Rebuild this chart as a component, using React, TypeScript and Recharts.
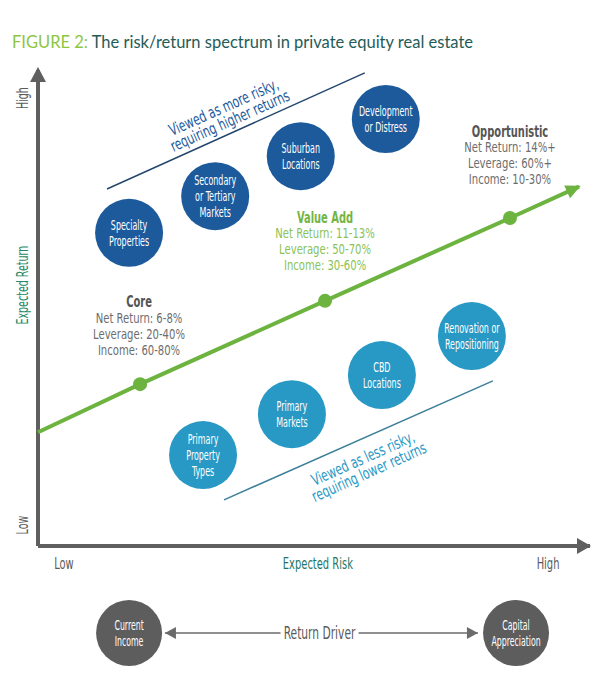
import React from 'react';
import { ScatterChart, Scatter, XAxis, YAxis, ReferenceLine } from 'recharts';

// axis labels (positions on a 0-100 risk / return scale)
const riskTicks = [4.7, 50.7, 92.4];
const riskTickLabels = ['Low', 'Expected Risk', 'High'];
const returnTicks = [4.4, 54.8, 94.1];
const returnTickLabels = ['Low', 'Expected Return', 'High'];

const higherRiskPlays = [
  { risk: 16.5, ret: 65.8, label: ['Specialty', 'Properties'] },
  { risk: 32.1, ret: 73.5, label: ['Secondary', 'or Tertiary', 'Markets'] },
  { risk: 47.6, ret: 81.9, label: ['Suburban', 'Locations'] },
  { risk: 63.0, ret: 89.7, label: ['Development', 'or Distress'] },
];

const lowerRiskPlays = [
  { risk: 29.9, ret: 19.1, label: ['Primary', 'Property', 'Types'] },
  { risk: 46.0, ret: 27.7, label: ['Primary', 'Markets'] },
  { risk: 62.3, ret: 35.9, label: ['CBD', 'Locations'] },
  { risk: 78.6, ret: 44.1, label: ['Renovation or', 'Repositioning'] },
];

const trendPath = [
  { risk: 0, ret: 23.9, kind: 'start' },
  { risk: 18.5, ret: 34.0, kind: 'stage' },
  { risk: 52.0, ret: 51.5, kind: 'stage' },
  { risk: 85.5, ret: 68.9, kind: 'stage' },
  { risk: 98.0, ret: 75.5, kind: 'tip' },
];

const strategies = [
  { name: 'Core', risk: 18.3, ret: 51.3, netReturn: '6-8%', leverage: '20-40%', income: '60-80%' },
  { name: 'Value Add', risk: 52.0, ret: 69.1, netReturn: '11-13%', leverage: '50-70%', income: '30-60%' },
  { name: 'Opportunistic', risk: 85.5, ret: 87.2, netReturn: '14%+', leverage: '60%+', income: '10-30%' },
];

const upperBoundary = [{ risk: 12.5, ret: 75.0 }, { risk: 59.2, ret: 99.4 }];
const lowerBoundary = [{ risk: 33.7, ret: 9.7 }, { risk: 82.4, ret: 34.7 }];

const boundaryNotes = [
  { risk: 34.2, ret: 90.8, tone: 'upper', lines: ['Viewed as more risky,', 'requiring higher returns'] },
  { risk: 59.4, ret: 17.0, tone: 'lower', lines: ['Viewed as less risky,', 'requiring lower returns'] },
];

const axisTips = [{ risk: 0, ret: 100 }, { risk: 100, ret: 0 }];

const drivers = [
  { pos: 16.5, level: 0.5, label: ['Current', 'Income'] },
  { pos: 86.6, level: 0.5, label: ['Capital', 'Appreciation'] },
];
const driverArrow = [23.0, 79.7];
const driverTitle = [{ pos: 51.0, level: 0.5, text: 'Return Driver' }];

const NARROW = "'Liberation Sans Narrow', 'DejaVu Sans Condensed', 'Roboto', sans-serif";
const DARK_BLUE = '#1c5a9c';
const LIGHT_BLUE = '#2898c4';
const GREEN = '#6db33f';
const AXIS = '#5f5f5f';

function Lines({ x, y, lines, size, gap, color, weight = 400, rotate = 0, squeeze = 0.8 }: any) {
  const top = -((lines.length - 1) * gap) / 2;
  return (
    <g transform={`translate(${x},${y}) rotate(${rotate}) scale(${squeeze},1)`}>
      <text textAnchor="middle" fill={color} fontSize={size} fontFamily={NARROW} fontWeight={weight}>
        {lines.map((l: string, i: number) => (
          <tspan key={i} x={0} y={top + i * gap} dy="0.35em">{l}</tspan>
        ))}
      </text>
    </g>
  );
}

const bubble = (fill: string) => (props: any) => {
  const { cx, cy, payload } = props;
  return (
    <g>
      <circle cx={cx} cy={cy} r={34} fill={fill} />
      <Lines x={cx} y={cy} lines={payload.label} size={14.5} gap={16} color="#fff" squeeze={0.61} />
    </g>
  );
};

const TrendMark = (props: any) => {
  const { cx, cy, payload } = props;
  if (payload.kind === 'stage') return <circle cx={cx} cy={cy} r={7} fill={GREEN} />;
  if (payload.kind === 'tip')
    return (
      <polygon
        points={`${cx + 2},${cy} ${cx - 13},${cy - 7} ${cx - 13},${cy + 7}`}
        fill={GREEN}
        transform={`rotate(-24.4 ${cx} ${cy})`}
      />
    );
  return <g />;
};

const StrategyLabel = (props: any) => {
  const { cx, cy, payload } = props;
  const green = payload.name === 'Value Add';
  const head = green ? '#74b443' : '#555555';
  const body = green ? '#8ac256' : '#6d6d6d';
  return (
    <g>
      <Lines x={cx} y={cy} lines={[payload.name]} size={16} gap={16} color={head} weight={600} squeeze={0.69} />
      <Lines
        x={cx}
        y={cy + 32}
        lines={[`Net Return: ${payload.netReturn}`, `Leverage: ${payload.leverage}`, `Income: ${payload.income}`]}
        size={14.5}
        gap={16}
        color={body}
        squeeze={0.77}
      />
    </g>
  );
};

const NoteLabel = (props: any) => {
  const { cx, cy, payload } = props;
  const color = payload.tone === 'upper' ? DARK_BLUE : LIGHT_BLUE;
  return (
    <Lines x={cx} y={cy} lines={payload.lines} size={16} gap={15} color={color} rotate={-24} squeeze={0.75} weight={500} />
  );
};

const AxisTip = (props: any) => {
  const { cx, cy, payload } = props;
  if (payload.risk === 0)
    return <polygon points={`${cx},${cy - 3} ${cx - 8},${cy + 12} ${cx + 8},${cy + 12}`} fill={AXIS} />;
  return <polygon points={`${cx + 1},${cy} ${cx - 13},${cy - 8} ${cx - 13},${cy + 8}`} fill={AXIS} />;
};

const RiskTick = (props: any) => {
  const { x, y, payload } = props;
  const i = riskTicks.indexOf(payload.value);
  return (
    <Lines
      x={x}
      y={y}
      lines={[riskTickLabels[i]]}
      size={16}
      gap={16}
      squeeze={0.69}
      color={i === 1 ? '#1e7565' : '#5a5a5a'}
    />
  );
};

const ReturnTick = (props: any) => {
  const { x, y, payload } = props;
  const i = returnTicks.indexOf(payload.value);
  return (
    <Lines
      x={x}
      y={y}
      lines={[returnTickLabels[i]]}
      size={16}
      gap={16}
      rotate={-90}
      squeeze={0.66}
      color={i === 1 ? '#268a68' : '#5a5a5a'}
    />
  );
};

const DriverBubble = (props: any) => {
  const { cx, cy, payload } = props;
  return (
    <g>
      <circle cx={cx} cy={cy} r={33} fill="#5d5d5d" />
      <Lines x={cx} y={cy} lines={payload.label} size={14} gap={16} color="#fff" squeeze={0.62} />
    </g>
  );
};

const DriverHead = (props: any) => {
  const { cx, cy, payload } = props;
  const dir = payload.pos < 50 ? -1 : 1;
  return (
    <polygon
      points={`${cx},${cy} ${cx - dir * 11},${cy - 6} ${cx - dir * 11},${cy + 6}`}
      fill="#6b6b6b"
    />
  );
};

const DriverTitle = (props: any) => {
  const { cx, cy, payload } = props;
  return (
    <g>
      <rect x={cx - 39} y={cy - 10} width={78} height={20} fill="#fff" />
      <Lines x={cx} y={cy} lines={[payload.text]} size={17} gap={16} color="#5a5a5a" squeeze={0.7} />
    </g>
  );
};

export default function App() {
  return (
    <div style={{ position: 'absolute', left: 0, top: 0, width: 609, height: 676, background: '#fff' }}>
      <div style={{ position: 'absolute', left: 0, top: 0 }}>
        <ScatterChart width={609} height={590} margin={{ top: 70, right: 19, bottom: 14, left: 0 }}>
          <XAxis
            type="number"
            dataKey="risk"
            domain={[0, 100]}
            ticks={riskTicks}
            interval={0}
            tick={RiskTick}
            tickSize={0}
            tickMargin={17}
            tickLine={false}
            axisLine={{ stroke: AXIS, strokeWidth: 4 }}
            height={30}
          />
          <YAxis
            type="number"
            dataKey="ret"
            domain={[0, 100]}
            ticks={returnTicks}
            interval={0}
            tick={ReturnTick}
            tickSize={0}
            tickMargin={16}
            tickLine={false}
            axisLine={{ stroke: AXIS, strokeWidth: 4 }}
            width={38}
          />
          <ReferenceLine
            segment={upperBoundary.map((p) => ({ x: p.risk, y: p.ret }))}
            stroke="#24466e"
            strokeWidth={1.5}
          />
          <ReferenceLine
            segment={lowerBoundary.map((p) => ({ x: p.risk, y: p.ret }))}
            stroke="#3d7f99"
            strokeWidth={1.5}
          />
          <Scatter data={axisTips} shape={AxisTip} isAnimationActive={false} />
          <Scatter
            data={trendPath}
            line={{ stroke: GREEN, strokeWidth: 4 }}
            shape={TrendMark}
            isAnimationActive={false}
          />
          <Scatter data={higherRiskPlays} shape={bubble(DARK_BLUE)} isAnimationActive={false} />
          <Scatter data={lowerRiskPlays} shape={bubble(LIGHT_BLUE)} isAnimationActive={false} />
          <Scatter data={strategies} shape={StrategyLabel} isAnimationActive={false} />
          <Scatter data={boundaryNotes} shape={NoteLabel} isAnimationActive={false} />
        </ScatterChart>
      </div>
      <div style={{ position: 'absolute', left: 0, top: 595 }}>
        <ScatterChart width={609} height={76} margin={{ top: 0, right: 19, bottom: 0, left: 38 }}>
          <XAxis type="number" dataKey="pos" domain={[0, 100]} hide />
          <YAxis type="number" dataKey="level" domain={[0, 1]} hide />
          <ReferenceLine
            segment={[
              { x: driverArrow[0], y: 0.5 },
              { x: driverArrow[1], y: 0.5 },
            ]}
            stroke="#6b6b6b"
            strokeWidth={1.5}
          />
          <Scatter
            data={driverArrow.map((p) => ({ pos: p, level: 0.5 }))}
            shape={DriverHead}
            isAnimationActive={false}
          />
          <Scatter data={driverTitle} shape={DriverTitle} isAnimationActive={false} />
          <Scatter data={drivers} shape={DriverBubble} isAnimationActive={false} />
        </ScatterChart>
      </div>
      <div
        style={{
          position: 'absolute',
          left: 12,
          top: 32,
          fontFamily: 'Lato, sans-serif',
          fontSize: 16.5,
          lineHeight: '20px',
          color: '#1f5c57',
          whiteSpace: 'nowrap',
        }}
      >
        <span style={{ color: '#8dc63f' }}>FIGURE 2:</span> The risk/return spectrum in private equity real estate
      </div>
    </div>
  );
}
